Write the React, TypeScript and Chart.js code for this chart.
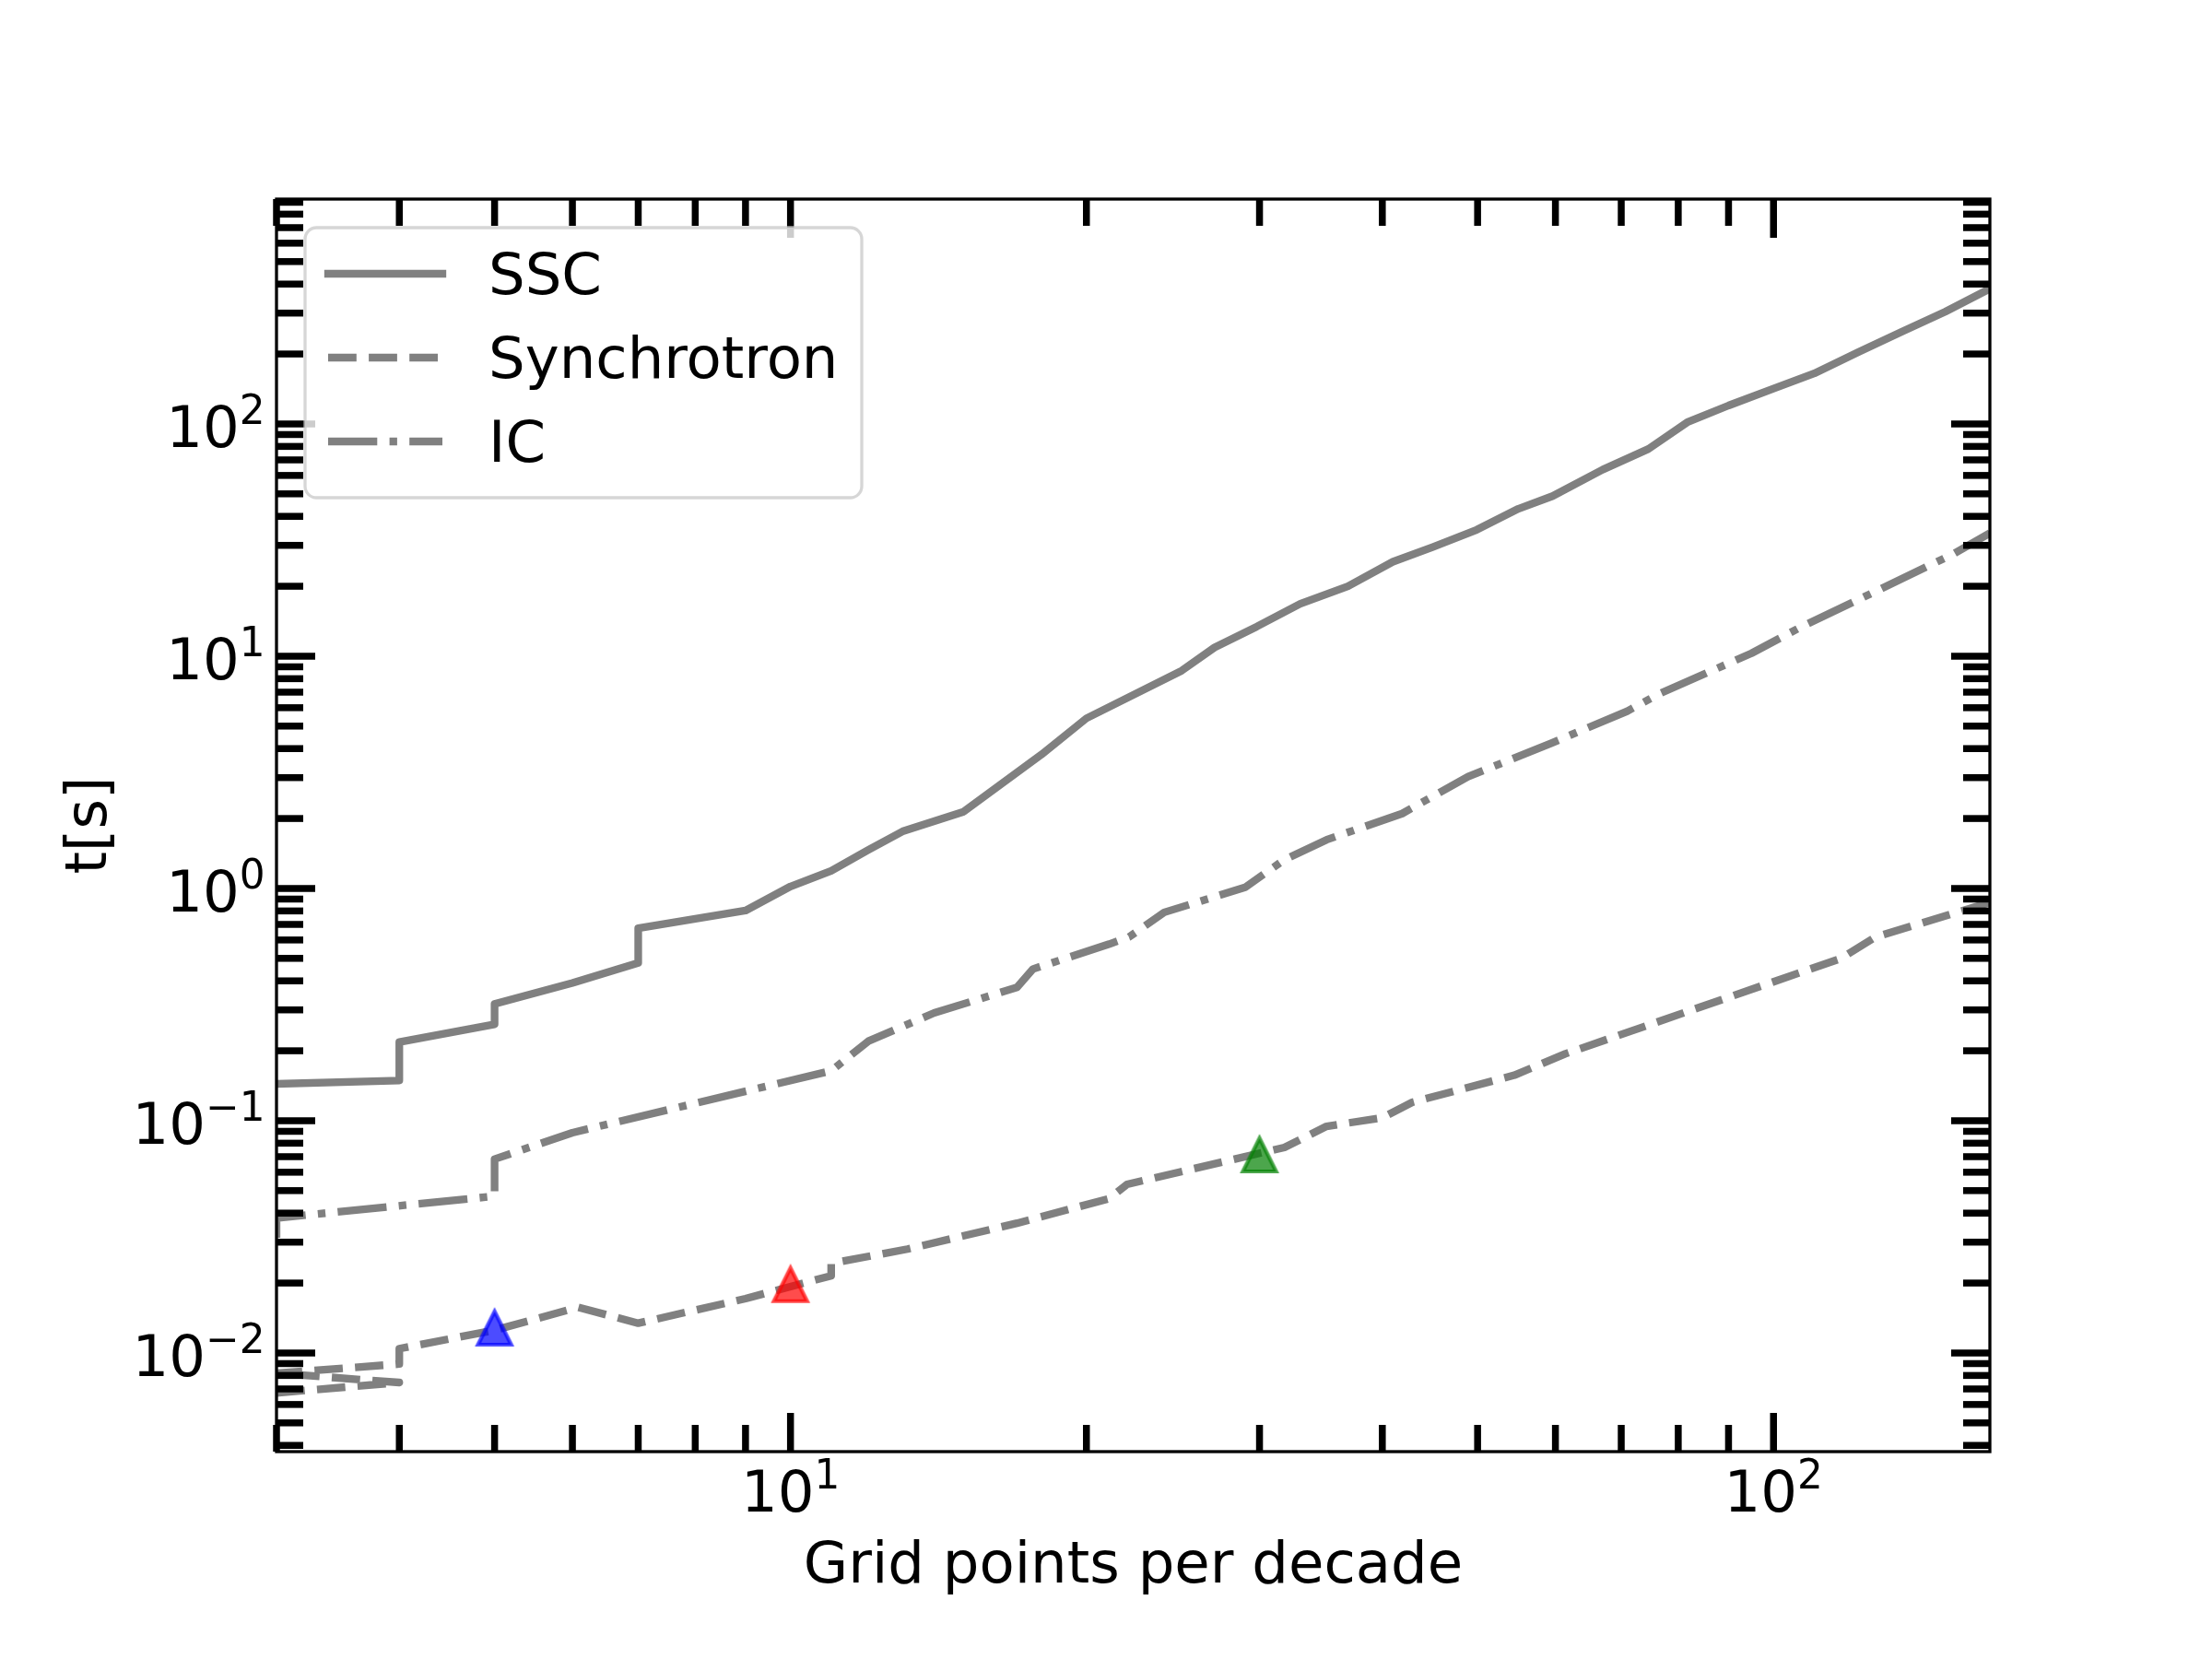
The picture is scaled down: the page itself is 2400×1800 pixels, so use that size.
import React, { useEffect, useRef } from 'react';
import { Chart, registerables } from 'chart.js';

Chart.register(...registerables);

// ---------------- data ----------------
const seriesLabels = ['SSC', 'Synchrotron', 'IC'];

const sscX = [3, 4, 4, 5, 5, 6, 7, 7, 9, 10, 11, 12, 13, 15, 18, 20, 25, 27, 29.8, 33, 36.9, 41, 45, 49.9, 55, 59.6, 67, 74.6, 81.7, 90, 100, 110, 122, 135, 149.5, 166];
const sscY = [0.144, 0.149, 0.218, 0.26, 0.318, 0.392, 0.478, 0.674, 0.803, 1.02, 1.19, 1.466, 1.76, 2.14, 3.77, 5.4, 8.66, 10.9, 13.4, 16.8, 20.0, 25.5, 29.5, 35.0, 43.1, 48.9, 63.5, 78.0, 101.6, 120, 142, 165, 204, 249, 304, 382];

const syncX = [3, 4, 3, 4, 4, 5, 6.08, 7, 9, 11, 11, 13.15, 17, 21.1, 22, 31.8, 35.1, 40, 42.9, 54.5, 61.4, 117, 127, 166];
const syncY = [0.00673, 0.00746, 0.00818, 0.00896, 0.01044, 0.01253, 0.01573, 0.01343, 0.01714, 0.0215, 0.0243, 0.028, 0.0362, 0.0462, 0.0532, 0.0767, 0.0946, 0.103, 0.12, 0.157, 0.194, 0.499, 0.618, 0.87];

const icX = [3, 3, 5, 5, 6, 11, 12, 14, 17, 17.65, 21.1, 22.1, 24, 29, 31.8, 35.1, 41.9, 48.9, 59.5, 71, 76.6, 95, 106.8, 127, 152, 166];
const icY = [0.0313, 0.0381, 0.0473, 0.0683, 0.0888, 0.164, 0.22, 0.291, 0.375, 0.45, 0.576, 0.618, 0.789, 1.01, 1.33, 1.62, 2.1, 3.03, 4.23, 5.8, 6.9, 10.3, 13.4, 19.0, 27.4, 33.9];

const markerX = [5, 10, 30];
const markerY = [0.0128, 0.0197, 0.0713];
const markerRGB = ['0,0,255', '255,0,0', '0,128,0'];

const xMajorTicks = [10, 100];
const xMajorExp = ['1', '2'];
const yMajorTicks = [0.01, 0.1, 1, 10, 100];
const yMajorExp = ['\u22122', '\u22121', '0', '1', '2'];

const xTitle = 'Grid points per decade';
const yTitle = 't[s]';

const X_MIN = 3;
const X_MAX = 166;
const Y_MIN = 0.00376;
const Y_MAX = 929;

// ---------------- style ----------------
const FONT = '"DejaVu Sans", sans-serif';
const FS = 62.5;
const SUP_FS = 43.75;
const GRAY = '#808080';
const LW = 8.33;
const DASH_SYNC = [30.8, 13.3];
const DASH_IC = [53.3, 13.3, 8.3, 13.3];
const TICK_W = 7.5;
const MAJOR_LEN = 42;
const MINOR_LEN = 29;
const SPINE_W = 3.3;

function minorTicks(min: number, max: number): number[] {
  const out: number[] = [];
  for (let d = Math.floor(Math.log10(min)); d <= Math.ceil(Math.log10(max)); d++) {
    for (let k = 2; k <= 9; k++) {
      const v = k * Math.pow(10, d);
      if (v >= min * 0.9999 && v <= max * 1.0001) out.push(v);
    }
  }
  return out;
}

function triangleCanvas(rgb: string): HTMLCanvasElement {
  const c = document.createElement('canvas');
  c.width = 60;
  c.height = 60;
  const g = c.getContext('2d') as CanvasRenderingContext2D;
  const cx = 30, cy = 30, h = 18;
  g.beginPath();
  g.moveTo(cx, cy - h);
  g.lineTo(cx - h, cy + h);
  g.lineTo(cx + h, cy + h);
  g.closePath();
  g.fillStyle = `rgba(${rgb},0.7)`;
  g.fill();
  g.lineWidth = 4.2;
  g.lineJoin = 'miter';
  g.strokeStyle = `rgba(${rgb},0.7)`;
  g.stroke();
  return c;
}

function drawPow(ctx: CanvasRenderingContext2D, exp: string, x: number, baseline: number, align: 'right' | 'center') {
  ctx.font = `${FS}px ${FONT}`;
  const wBase = ctx.measureText('10').width;
  ctx.font = `${SUP_FS}px ${FONT}`;
  const wSup = ctx.measureText(exp).width;
  const total = wBase + wSup;
  const start = align === 'right' ? x - total : x - total / 2;
  ctx.textAlign = 'left';
  ctx.textBaseline = 'alphabetic';
  ctx.font = `${FS}px ${FONT}`;
  ctx.fillText('10', start, baseline);
  ctx.font = `${SUP_FS}px ${FONT}`;
  ctx.fillText(exp, start + wBase, baseline - 25);
}

const decorPlugin = {
  id: 'decor',
  afterDatasetsDraw(chart: any) {
    const ctx: CanvasRenderingContext2D = chart.ctx;
    const a = chart.chartArea;
    const xs = chart.scales.x;
    const ys = chart.scales.y;
    ctx.save();
    ctx.strokeStyle = '#000';
    ctx.lineCap = 'butt';
    ctx.setLineDash([]);
    ctx.lineWidth = TICK_W;
    const seg = (x1: number, y1: number, x2: number, y2: number) => {
      ctx.beginPath();
      ctx.moveTo(x1, y1);
      ctx.lineTo(x2, y2);
      ctx.stroke();
    };
    const xt: [number, number][] = [
      ...xMajorTicks.map((v) => [v, MAJOR_LEN] as [number, number]),
      ...minorTicks(X_MIN, X_MAX).map((v) => [v, MINOR_LEN] as [number, number]),
    ];
    for (const [v, len] of xt) {
      const px = xs.getPixelForValue(v);
      seg(px, a.bottom, px, a.bottom - len);
      seg(px, a.top, px, a.top + len);
    }
    const yt: [number, number][] = [
      ...yMajorTicks.map((v) => [v, MAJOR_LEN] as [number, number]),
      ...minorTicks(Y_MIN, Y_MAX).map((v) => [v, MINOR_LEN] as [number, number]),
    ];
    for (const [v, len] of yt) {
      const py = ys.getPixelForValue(v);
      seg(a.left, py, a.left + len, py);
      seg(a.right, py, a.right - len, py);
    }
    ctx.lineWidth = SPINE_W;
    ctx.strokeRect(a.left, a.top, a.right - a.left, a.bottom - a.top);
    ctx.restore();
  },
  afterDraw(chart: any) {
    const ctx: CanvasRenderingContext2D = chart.ctx;
    const a = chart.chartArea;
    const xs = chart.scales.x;
    const ys = chart.scales.y;
    ctx.save();
    ctx.fillStyle = '#000';
    // tick labels
    yMajorTicks.forEach((v, i) => {
      const py = ys.getPixelForValue(v);
      drawPow(ctx, yMajorExp[i], a.left - 12.5, py + 25, 'right');
    });
    xMajorTicks.forEach((v, i) => {
      const px = xs.getPixelForValue(v);
      drawPow(ctx, xMajorExp[i], px, a.bottom + 65, 'center');
    });
    // axis titles
    ctx.font = `${FS}px ${FONT}`;
    ctx.textAlign = 'center';
    ctx.textBaseline = 'alphabetic';
    ctx.fillText(xTitle, (a.left + a.right) / 2, a.bottom + 142);
    ctx.save();
    ctx.translate(115, (a.top + a.bottom) / 2);
    ctx.rotate(-Math.PI / 2);
    ctx.fillText(yTitle, 0, 0);
    ctx.restore();

    // legend
    const lx = a.left + 31, ly = a.top + 31, lw = 604, lh = 293, r = 12.5;
    ctx.beginPath();
    ctx.roundRect(lx, ly, lw, lh, r);
    ctx.fillStyle = 'rgba(255,255,255,0.8)';
    ctx.fill();
    ctx.lineWidth = 3.3;
    ctx.strokeStyle = 'rgba(204,204,204,0.8)';
    ctx.stroke();
    const dashes = [[], DASH_SYNC, DASH_IC];
    seriesLabels.forEach((lab, i) => {
      const rowY = ly + 50 + i * 91;
      ctx.beginPath();
      ctx.setLineDash(dashes[i]);
      ctx.lineDashOffset = 0;
      ctx.lineCap = i === 0 ? 'square' : 'butt';
      ctx.lineWidth = LW;
      ctx.strokeStyle = GRAY;
      ctx.moveTo(lx + 25, rowY);
      ctx.lineTo(lx + 149, rowY);
      ctx.stroke();
      ctx.setLineDash([]);
      ctx.fillStyle = '#000';
      ctx.font = `${FS}px ${FONT}`;
      ctx.textAlign = 'left';
      ctx.textBaseline = 'alphabetic';
      ctx.fillText(lab, lx + 199, rowY + 22);
    });
    ctx.restore();
  },
};

export default function App() {
  const ref = useRef<HTMLCanvasElement | null>(null);

  useEffect(() => {
    document.body.style.margin = '0';
    const canvas = ref.current;
    if (!canvas) return;
    const pts = (xs: number[], ys: number[]) => xs.map((x, i) => ({ x, y: ys[i] }));
    const markers = markerRGB.map((c) => triangleCanvas(c));

    const chart = new Chart(canvas, {
      type: 'line',
      data: {
        datasets: [
          {
            type: 'scatter',
            label: 'markers',
            data: pts(markerX, markerY),
            pointStyle: markers as any,
            pointRadius: 20,
            showLine: false,
            order: 0,
          } as any,
          {
            label: seriesLabels[0],
            data: pts(sscX, sscY),
            borderColor: GRAY,
            borderWidth: LW,
            borderCapStyle: 'square',
            borderJoinStyle: 'round',
            pointRadius: 0,
            tension: 0,
            fill: false,
            clip: 0,
            order: 1,
          },
          {
            label: seriesLabels[1],
            data: pts(syncX, syncY),
            borderColor: GRAY,
            borderWidth: LW,
            borderDash: DASH_SYNC,
            borderCapStyle: 'butt',
            borderJoinStyle: 'round',
            pointRadius: 0,
            tension: 0,
            fill: false,
            clip: 0,
            order: 1,
          },
          {
            label: seriesLabels[2],
            data: pts(icX, icY),
            borderColor: GRAY,
            borderWidth: LW,
            borderDash: DASH_IC,
            borderCapStyle: 'butt',
            borderJoinStyle: 'round',
            pointRadius: 0,
            tension: 0,
            fill: false,
            clip: 0,
            order: 1,
          },
        ],
      },
      options: {
        responsive: false,
        devicePixelRatio: 1,
        animation: false,
        events: [],
        layout: { padding: { left: 300, top: 216, right: 241, bottom: 225 } },
        plugins: { legend: { display: false }, tooltip: { enabled: false } },
        scales: {
          x: { type: 'logarithmic', min: X_MIN, max: X_MAX, bounds: 'data', display: false },
          y: { type: 'logarithmic', min: Y_MIN, max: Y_MAX, bounds: 'data', display: false },
        },
      },
      plugins: [decorPlugin],
    } as any);

    return () => chart.destroy();
  }, []);

  return <canvas ref={ref} width={2400} height={1800} style={{ display: 'block' }} />;
}
